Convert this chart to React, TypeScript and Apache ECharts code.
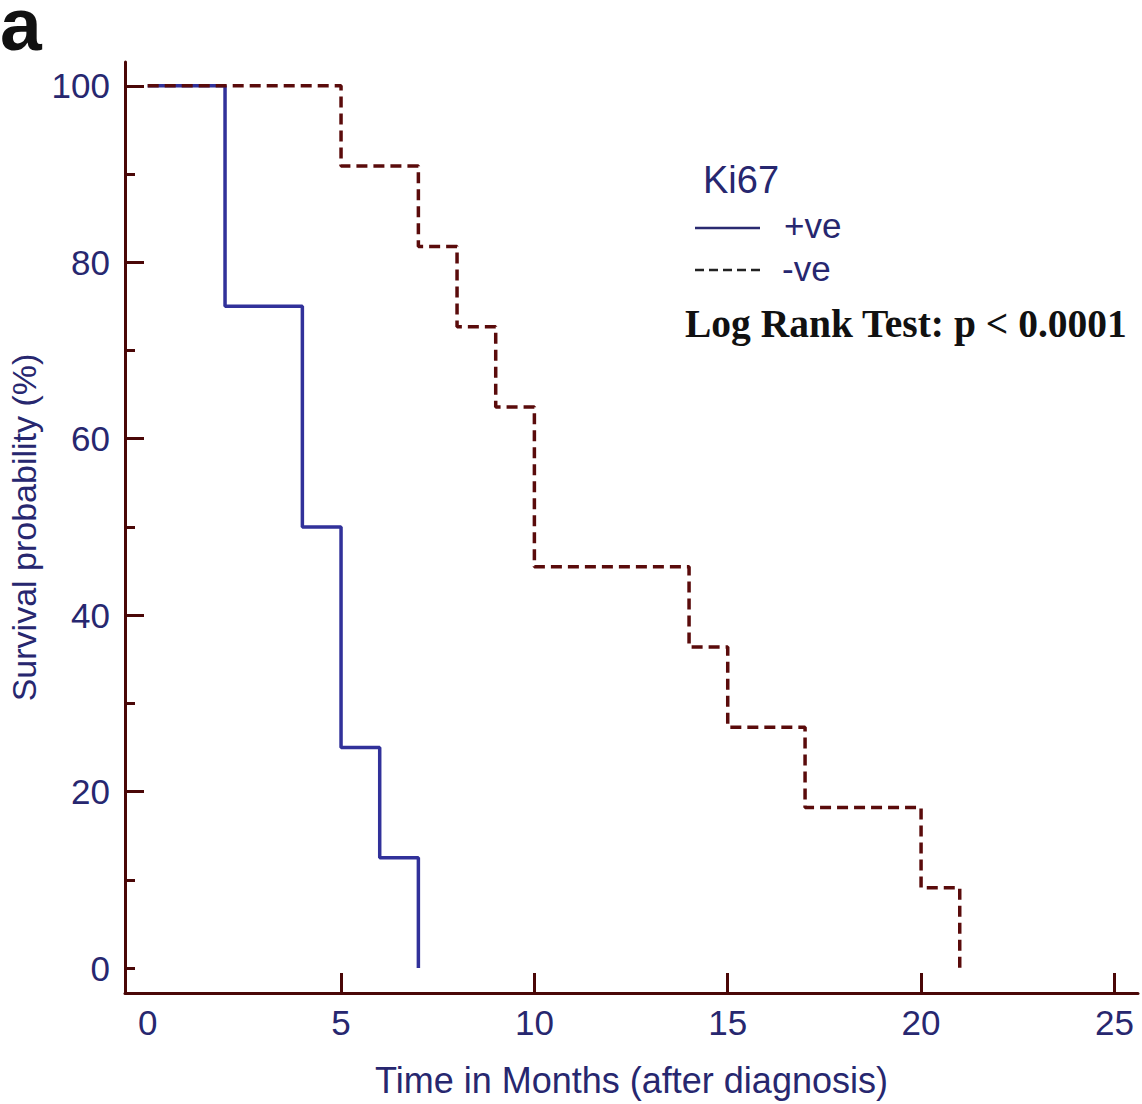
import React, { useEffect, useRef } from "react";
import * as echarts from "echarts";

// ---- data (Kaplan–Meier steps: [time in months, survival %]) ----
const positiveSteps: [number, number][] = [
  [0, 100], [2, 75], [4, 50], [5, 25], [6, 12.5], [7, 0],
];
const negativeSteps: [number, number][] = [
  [0, 100], [5, 90.9], [7, 81.8], [8, 72.7], [9, 63.6], [10, 45.5],
  [14, 36.4], [15, 27.3], [17, 18.2], [20, 9.1], [21, 0],
];
const xTickLabels = [0, 5, 10, 15, 20, 25];
const xTicks = [5, 10, 15, 20, 25];
const yTickLabels = [0, 20, 40, 60, 80, 100];
const yMinorTicks = [0, 10, 30, 50, 70, 90];
const seriesNames = ["+ve", "-ve"];

const AXIS = "#4a0707";
const NAVY = "#27276f";
const BLUE = "#31319a";
const RED = "#5a0b0b";
const SANS = "'Liberation Sans', Arial, sans-serif";

export default function App() {
  const ref = useRef<HTMLDivElement>(null);
  useEffect(() => {
    if (!ref.current) return;
    const chart = echarts.init(ref.current, undefined, { renderer: "svg" });
    const gridPos = { left: 125, top: 62, right: 4, bottom: 111, outerBoundsMode: "none" as any };
    const xMin = -0.587, xMax = 25.61, yMin = -2.83, yMax = 102.7;
    chart.setOption({
      animation: false,
      backgroundColor: "#ffffff",
      title: {
        text: "Ki67",
        left: 698,
        top: 156,
        textStyle: { fontFamily: SANS, fontSize: 38, fontWeight: "normal", color: NAVY },
      },
      grid: [gridPos, gridPos],
      xAxis: [
        {
          type: "value",
          gridIndex: 0,
          min: xMin,
          max: xMax,
          axisLine: { show: true, onZero: false, lineStyle: { color: AXIS, width: 3 } },
          axisTick: {
            show: true,
            inside: true,
            length: 20,
            customValues: xTicks,
            lineStyle: { color: AXIS, width: 3 },
          },
          axisLabel: {
            customValues: xTickLabels,
            fontFamily: SANS,
            fontSize: 35,
            color: NAVY,
            margin: 12,
          },
          splitLine: { show: false },
          name: "Time in Months (after diagnosis)",
          nameLocation: "middle",
          nameGap: 69,
          nameTextStyle: { fontFamily: SANS, fontSize: 36, color: NAVY },
        },
        {
          type: "value",
          gridIndex: 1,
          min: xMin,
          max: xMax,
          show: false,
        },
      ],
      yAxis: [
        {
          type: "value",
          gridIndex: 0,
          min: yMin,
          max: yMax,
          axisLine: { show: true, onZero: false, lineStyle: { color: AXIS, width: 3 } },
          axisTick: {
            show: true,
            inside: true,
            length: 19,
            customValues: yTickLabels.filter((v) => v !== 0),
            lineStyle: { color: AXIS, width: 3 },
          },
          axisLabel: {
            customValues: yTickLabels,
            fontFamily: SANS,
            fontSize: 35,
            color: NAVY,
            margin: 15,
          },
          splitLine: { show: false },
          name: "Survival probability (%)",
          nameLocation: "middle",
          nameGap: 84,
          nameRotate: 90,
          nameTextStyle: { fontFamily: SANS, fontSize: 34, color: NAVY },
        },
        {
          type: "value",
          gridIndex: 1,
          min: yMin,
          max: yMax,
          axisLine: { show: false, onZero: false },
          axisLabel: { show: false },
          splitLine: { show: false },
          axisTick: {
            show: true,
            inside: true,
            length: 10,
            customValues: yMinorTicks,
            lineStyle: { color: AXIS, width: 3 },
          },
        },
      ],
      series: [
        {
          name: seriesNames[0],
          type: "line",
          step: "end",
          data: positiveSteps,
          symbol: "none",
          z: 2,
          lineStyle: { color: BLUE, width: 3.5 },
          itemStyle: { color: BLUE },
        },
        {
          name: seriesNames[1],
          type: "line",
          step: "end",
          data: negativeSteps,
          symbol: "none",
          z: 3,
          lineStyle: { color: RED, width: 3.5, type: [11, 6] },
          itemStyle: { color: RED },
        },
      ],
      graphic: [
        {
          type: "text",
          left: 0,
          top: -14,
          style: {
            text: "a",
            fontFamily: SANS,
            fontSize: 75,
            lineHeight: 52,
            verticalAlign: "top",
            fontWeight: "bold",
            fill: "#111111",
          },
        },
        // legend
        {
          type: "line",
          shape: { x1: 695, y1: 228, x2: 760, y2: 228 },
          style: { stroke: "#2a2a70", lineWidth: 2.5 },
        },
        {
          type: "text",
          left: 784,
          top: 208,
          style: { text: seriesNames[0], fontFamily: SANS, fontSize: 35, fill: NAVY },
        },
        {
          type: "line",
          shape: { x1: 695, y1: 270, x2: 760, y2: 270 },
          style: { stroke: "#222222", lineWidth: 2.5, lineDash: [9, 5] },
        },
        {
          type: "text",
          left: 782,
          top: 251,
          style: { text: seriesNames[1], fontFamily: SANS, fontSize: 35, fill: NAVY },
        },
        {
          type: "text",
          left: 685,
          top: 304,
          style: {
            text: "Log Rank Test: p < 0.0001",
            fontFamily: "'Liberation Serif', 'Times New Roman', serif",
            fontSize: 39.5,
            fontWeight: "bold",
            fill: "#111111",
          },
        },
      ],
    });
    return () => chart.dispose();
  }, []);
  return (
    <div
      ref={ref}
      style={{ position: "absolute", left: 0, top: 0, width: 1142, height: 1104 }}
    />
  );
}
